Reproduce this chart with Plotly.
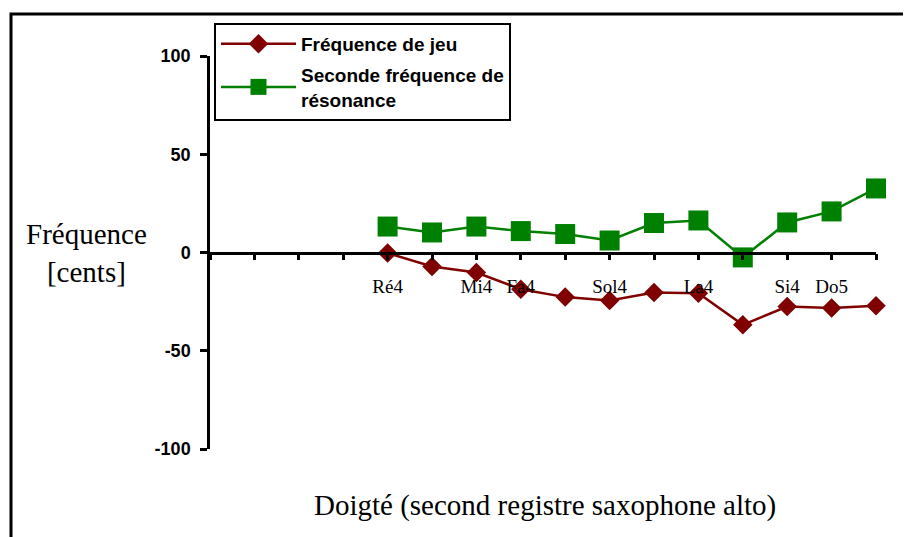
import plotly.graph_objects as go

# fingerings (second register, alto sax); only some are labelled on the axis
tick_positions = list(range(16))
tick_labels = ["", "", "", "", "Ré4", "", "Mi4", "Fa4", "", "Sol4", "", "La4", "", "Si4", "Do5", ""]
note_positions = [4, 5, 6, 7, 8, 9, 10, 11, 12, 13, 14, 15]

freq_jeu = [-0.3, -7.1, -10.2, -18.7, -22.7, -24.4, -20.4, -20.7, -36.8, -27.5, -28.3, -27.1]
freq_resonance = [13.2, 10.2, 13.2, 10.9, 9.4, 6.1, 15.0, 16.3, -2.5, 15.3, 20.9, 32.6]

y_ticks = [-100, -50, 0, 50, 100]
y_tick_labels = ["-100", "-50", "0", "50", "100"]

SERIF = "Liberation Serif, Times New Roman, serif"
SANS = "Liberation Sans, Arial, sans-serif"

fig = go.Figure()

fig.add_trace(go.Scatter(
    x=note_positions, y=freq_jeu,
    name="Fréquence de jeu", legendgroup="jeu",
    mode="lines+markers",
    line=dict(color="#800000", width=2.5),
    marker=dict(symbol="diamond", size=15, color="#800000"),
    cliponaxis=False,
))
fig.add_trace(go.Scatter(
    x=note_positions, y=freq_resonance,
    name="Seconde fréquence de<br>résonance", legendgroup="reso",
    mode="lines+markers",
    line=dict(color="#008000", width=2.5),
    marker=dict(symbol="square", size=20, color="#008000"),
    cliponaxis=False,
))

common_x = dict(range=[0, 15], tickmode="array", tickvals=tick_positions,
                showgrid=False, zeroline=False, showline=True,
                linecolor="black", linewidth=2.5, tickcolor="black", tickwidth=2.5,
                ticklen=6, anchor="free", position=0.5)
common_y = dict(range=[-100, 100], tickmode="array", tickvals=y_ticks,
                showgrid=False, zeroline=False, showline=True,
                linecolor="black", linewidth=2.5, tickcolor="black", tickwidth=2.5)

# the page body adds an 8px margin, so the figure is drawn 8px smaller and margins shifted
fig.update_layout(
    width=903, height=529,
    margin=dict(l=202, r=35, t=48, b=88),
    paper_bgcolor="white", plot_bgcolor="white",
    showlegend=True,
    xaxis=dict(**common_x, ticks="outside", ticktext=tick_labels,
               tickfont=dict(family=SERIF, size=19, color="black"),
               ticklabelstandoff=10),
    xaxis2=dict(**common_x, ticks="inside", overlaying="x", showticklabels=False),
    yaxis=dict(**common_y, ticks="outside", ticklen=7, anchor="x",
               ticktext=y_tick_labels,
               tickfont=dict(family=SANS, size=18, color="black", weight="bold"),
               ticklabelstandoff=6),
    yaxis2=dict(**common_y, ticks="inside", ticklen=6, overlaying="y", anchor="x",
                side="left", showticklabels=False),
    legend=dict(
        x=0.006, y=1.084, xanchor="left", yanchor="top",
        bgcolor="white", bordercolor="black", borderwidth=2,
        font=dict(family=SANS, size=19, color="black", weight="bold"),
        tracegroupgap=3, itemwidth=75,
    ),
    annotations=[
        dict(text="Doigté (second registre saxophone alto)", xref="paper", yref="paper",
             x=0.503, y=-0.1425, xanchor="center", yanchor="middle", showarrow=False,
             font=dict(family=SERIF, size=29, color="black")),
        dict(text="Fréquence<br>[cents]", xref="paper", yref="paper",
             x=-0.1847, y=0.5, xanchor="center", yanchor="middle", showarrow=False,
             font=dict(family=SERIF, size=29, color="black")),
    ],
    shapes=[
        # outer chart frame, open on the right and bottom (cropped in the source)
        dict(type="path", xref="paper", yref="paper",
             path="M -0.2988,-0.25 L -0.2988,1.1069 L 1.07,1.1069",
             line=dict(color="black", width=3)),
    ],
)

fig.write_html("out.html")
